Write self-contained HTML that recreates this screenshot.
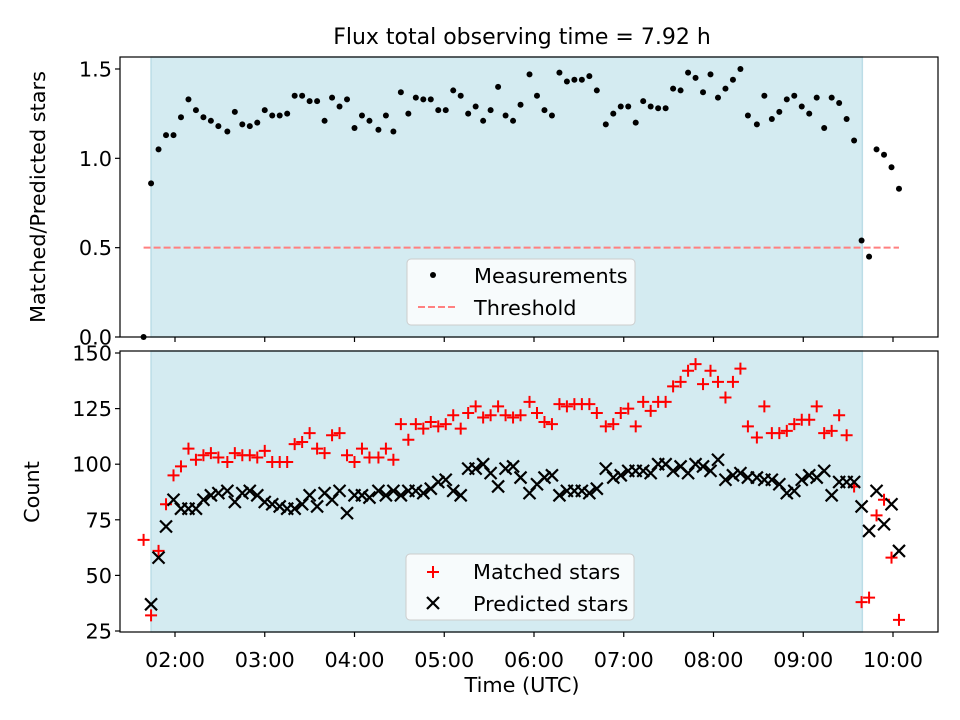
<!DOCTYPE html>
<html><head><meta charset="utf-8"><style>
body{margin:0;background:#fff}
svg{display:block;font-family:"DejaVu Sans","Liberation Sans",sans-serif}
</style></head><body>
<svg id="chart" width="960" height="720" viewBox="0 0 960 720" xmlns="http://www.w3.org/2000/svg" style="position:absolute;left:0;top:0">
<text x="522" y="44" font-size="22" text-anchor="middle">Flux total observing time = 7.92 h</text>
<g id="gtop"></g>
<g id="gbot"></g>
</svg>
<script>
const times = [99,104,109,114,119,124,129,134,139,144,149,155,160,165,170,175,180,185,190,195,200,205,210,215,220,225,230,235,240,245,250,256,261,266,271,276,281,286,291,296,301,306,311,316,321,326,331,336,341,346,351,357,362,367,372,377,382,387,392,397,402,408,413,418,423,428,433,438,443,448,453,458,463,468,473,478,483,488,493,498,503,509,514,519,524,529,534,539,544,549,554,559,564,569,574,579,584,589,594,599,604];
const ratio = [0.0,0.86,1.05,1.13,1.13,1.23,1.33,1.27,1.23,1.21,1.18,1.15,1.26,1.19,1.18,1.20,1.27,1.24,1.24,1.25,1.35,1.35,1.32,1.32,1.21,1.34,1.29,1.33,1.17,1.24,1.21,1.16,1.24,1.15,1.37,1.25,1.34,1.33,1.33,1.27,1.27,1.38,1.35,1.25,1.29,1.21,1.27,1.40,1.24,1.21,1.30,1.47,1.35,1.27,1.24,1.48,1.43,1.44,1.44,1.46,1.38,1.19,1.25,1.29,1.29,1.20,1.32,1.29,1.28,1.28,1.39,1.38,1.48,1.45,1.37,1.47,1.34,1.39,1.44,1.50,1.24,1.19,1.35,1.22,1.26,1.33,1.35,1.29,1.25,1.34,1.17,1.34,1.31,1.22,1.10,0.54,0.45,1.05,1.02,0.95,0.83];
const matched = [66,32,61,82,95,99,107,102,104,105,103,101,105,104,104,103,106,101,101,101,109,110,114,107,105,113,114,104,101,107,103,103,107,102,118,111,118,116,119,117,118,122,116,123,126,121,122,126,122,121,122,128,123,119,118,127,126,127,127,127,123,117,118,123,125,117,128,124,128,128,135,137,142,145,136,142,137,130,137,143,117,112,126,114,114,115,118,120,120,126,114,115,122,113,90,38,40,77,84,58,30];
const predicted = [null,37,58,72,84,80,80,80,84,86,87,88,83,87,88,86,83,82,81,80,80,82,86,81,87,84,88,78,86,86,85,88,86,88,86,88,88,87,89,92,93,88,86,98,98,100,96,90,98,99,94,87,91,94,95,86,88,88,88,87,89,98,94,95,97,97,97,96,100,100,97,99,96,100,99,97,102,93,95,96,94,94,93,93,91,87,88,93,95,94,97,86,92,92,92,81,70,88,73,82,61,36];
const xTickHours = [2,3,4,5,6,7,8,9,10];
const xTickLabels = ["02:00","03:00","04:00","05:00","06:00","07:00","08:00","09:00","10:00"];
const topTicks = [0.0,0.5,1.0,1.5];
const topTickLabels = ["0.0","0.5","1.0","1.5"];
const botTicks = [25,50,75,100,125,150];
const threshold = 0.5;
const shadeStart = 104, shadeEnd = 579.5;
const threshStart = 99, threshEnd = 604;

const NS="http://www.w3.org/2000/svg";
const L=120,R=938;
const FS=20.8;
const X = m => 175 + (m/60 - 2)*89.75;
const YT = v => 337 - v*178.67;
const YB = v => 631 - (v-25)*2.224;
function mk(tag, attrs, parent){const e=document.createElementNS(NS,tag);for(const k in attrs)e.setAttribute(k,attrs[k]);parent.appendChild(e);return e;}
const gTop=document.getElementById('gtop'), gBot=document.getElementById('gbot');

function panel(g, y0, y1, name){
  const s=mk('rect',{x:X(shadeStart),y:y0,width:X(shadeEnd)-X(shadeStart),height:y1-y0,fill:'#d4ebf1',stroke:'#bcdde7','stroke-width':1.5},g);
  
  
}
panel(gTop,57,337,'top');
panel(gBot,351,632,'bottom');

const th=mk('line',{x1:X(threshStart),x2:X(threshEnd),y1:YT(threshold),y2:YT(threshold),stroke:'#ff8080','stroke-width':2,'stroke-dasharray':'7,3'},gTop);



ratio.forEach((v,i)=>{
  const c=mk('circle',{cx:X(times[i]),cy:YT(v),r:3,fill:'#000'},gTop);
  
  
});

function plus(g,x,y){return mk('path',{d:`M${x-6} ${y}H${x+6}M${x} ${y-6}V${y+6}`,stroke:'#f00','stroke-width':2,fill:'none'},g);}
function cross(g,x,y){return mk('path',{d:`M${x-6} ${y-6}L${x+6} ${y+6}M${x-6} ${y+6}L${x+6} ${y-6}`,stroke:'#000','stroke-width':2.2,fill:'none'},g);}
matched.forEach((v,i)=>{
  const p=plus(gBot,X(times[i]),YB(v));
  
  
});
predicted.forEach((v,i)=>{
  if(v===null)return;
  const p=cross(gBot,X(times[i]),YB(v));
  
  
});

function frame(g,y0,y1,name){
  const f=mk('rect',{x:L,y:y0,width:R-L,height:y1-y0,fill:'none',stroke:'#000','stroke-width':1.2},g);
  
  
  xTickHours.forEach(h=>{mk('line',{x1:X(h*60),x2:X(h*60),y1:y1,y2:y1+5,stroke:'#000','stroke-width':1.2},g);});
}
frame(gTop,57,337,'top');
frame(gBot,351,632,'bottom');
topTicks.forEach((v,i)=>{
  mk('line',{x1:L-5,x2:L,y1:YT(v),y2:YT(v),stroke:'#000','stroke-width':1.2},gTop);
  const t=mk('text',{x:L-8,y:YT(v)+7.5,'font-size':FS,'text-anchor':'end'},gTop);
  t.textContent=topTickLabels[i];
  
  
});
botTicks.forEach(v=>{
  mk('line',{x1:L-5,x2:L,y1:YB(v),y2:YB(v),stroke:'#000','stroke-width':1.2},gBot);
  const t=mk('text',{x:L-8,y:YB(v)+7.5,'font-size':FS,'text-anchor':'end'},gBot);
  t.textContent=String(v);
  
  
});
xTickHours.forEach((h,i)=>{
  const t=mk('text',{x:X(h*60),y:667,'font-size':FS,'text-anchor':'middle'},gBot);
  t.textContent=xTickLabels[i];
  
  
});
</script>
<svg style="position:absolute;left:0;top:0" width="960" height="720" font-family="DejaVu Sans, Liberation Sans, sans-serif">
<text x="522" y="692" font-size="20.8" text-anchor="middle">Time (UTC)</text>
<text transform="translate(45,197) rotate(-90)" font-size="20.8" text-anchor="middle">Matched/Predicted stars</text>
<text transform="translate(39,492) rotate(-90)" font-size="20.8" text-anchor="middle">Count</text>
<g>
<rect x="407" y="259" width="228" height="66" rx="4" fill="#fff" fill-opacity="0.8" stroke="#ccc"/>
<circle cx="433" cy="275" r="3" fill="#000"/>
<text x="474" y="283" font-size="20.8">Measurements</text>
<line x1="418" x2="458" y1="307" y2="307" stroke="#ff8080" stroke-width="2" stroke-dasharray="7,3"/>
<text x="474" y="315" font-size="20.8">Threshold</text>
</g>
<g>
<rect x="406" y="554" width="228" height="66" rx="4" fill="#fff" fill-opacity="0.8" stroke="#ccc"/>
<path d="M427 572H439M433 566V578" stroke="#f00" stroke-width="2"/>
<text x="473" y="579" font-size="20.8">Matched stars</text>
<path d="M427 597L439 609M427 609L439 597" stroke="#000" stroke-width="2.2"/>
<text x="473" y="611" font-size="20.8">Predicted stars</text>
</g>
</svg>
</body></html>
